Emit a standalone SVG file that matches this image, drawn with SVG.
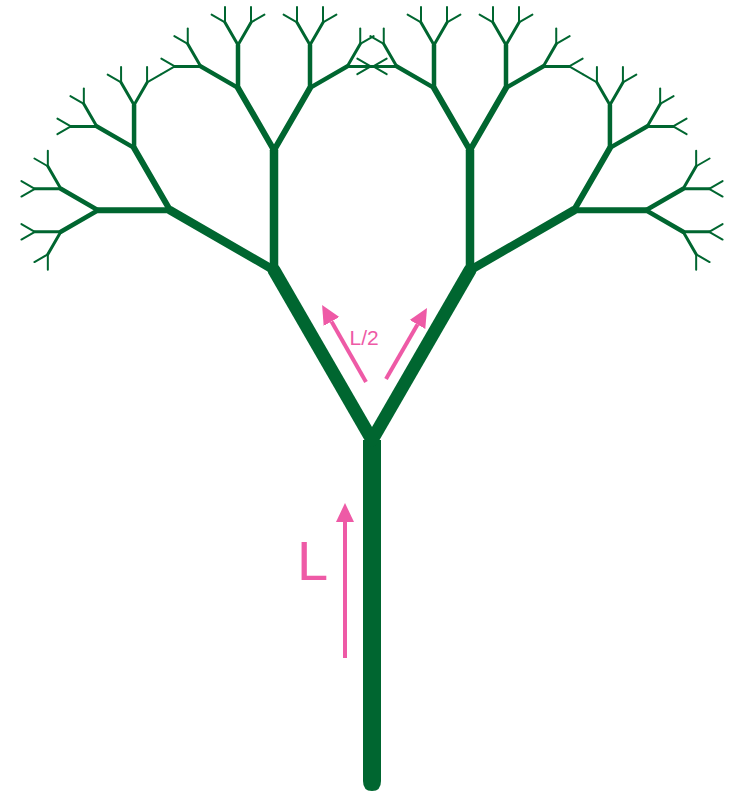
<svg xmlns="http://www.w3.org/2000/svg" xmlns:xlink="http://www.w3.org/1999/xlink" width="740" height="793" viewBox="0 0 740 793">
  <style>
    .br { stroke: #006630; stroke-linecap: round; fill: none; }
    .pk { stroke: #EE5AA6; stroke-width: 4; fill: none; }
    .lbl { fill: #EE5AA6; font-family: "Liberation Sans", Arial, sans-serif; }
  </style>
  <defs>
    <marker id="ah" markerUnits="userSpaceOnUse" markerWidth="20" markerHeight="20" viewBox="0 -10 20 20" refX="0" refY="0" orient="auto">
      <path d="M0,-9 L19,0 L0,9 Z" fill="#EE5AA6"/>
    </marker>
    <g id="b6"><line class="br" x1="0" y1="0" x2="0" y2="-15.5" stroke-width="2"/></g>
    <g id="b5"><line class="br" x1="0" y1="0" x2="0" y2="-26" stroke-width="3"/>
      <use xlink:href="#b6" transform="translate(0,-26) rotate(-30)"/>
      <use xlink:href="#b6" transform="translate(0,-26) rotate(30)"/></g>
    <g id="b4"><line class="br" x1="0" y1="0" x2="0" y2="-43" stroke-width="4.5"/>
      <use xlink:href="#b5" transform="translate(0,-43) rotate(-30)"/>
      <use xlink:href="#b5" transform="translate(0,-43) rotate(30)"/></g>
    <g id="b3"><line class="br" x1="0" y1="0" x2="0" y2="-72" stroke-width="6"/>
      <use xlink:href="#b4" transform="translate(0,-72) rotate(-30)"/>
      <use xlink:href="#b4" transform="translate(0,-72) rotate(30)"/></g>
    <g id="b2"><line class="br" x1="0" y1="0" x2="0" y2="-120" stroke-width="8.5"/>
      <use xlink:href="#b3" transform="translate(0,-120) rotate(-30)"/>
      <use xlink:href="#b3" transform="translate(0,-120) rotate(30)"/></g>
    <g id="b1"><line class="br" x1="0" y1="0" x2="0" y2="-196" stroke-width="13"/>
      <use xlink:href="#b2" transform="translate(0,-196) rotate(-30)"/>
      <use xlink:href="#b2" transform="translate(0,-196) rotate(30)"/></g>
  </defs>
  <g id="tree">
    <path d="M363,440 V781 Q363,791 372,791 Q381,791 381,781 V440 Z" fill="#006630"/>
    <use xlink:href="#b1" transform="translate(372,440) rotate(-30)"/>
    <use xlink:href="#b1" transform="translate(372,440) rotate(30)"/>
  </g>
  <g id="annotations">
    <line class="pk" x1="345" y1="658" x2="345" y2="522" marker-end="url(#ah)"/>
    <text class="lbl" x="297" y="580" font-size="56">L</text>
    <line class="pk" x1="366" y1="382" x2="331.5" y2="321.5" marker-end="url(#ah)"/>
    <line class="pk" x1="386" y1="379" x2="417.5" y2="324.5" marker-end="url(#ah)"/>
    <text class="lbl" x="349.5" y="345" font-size="21">L/2</text>
  </g>
</svg>
